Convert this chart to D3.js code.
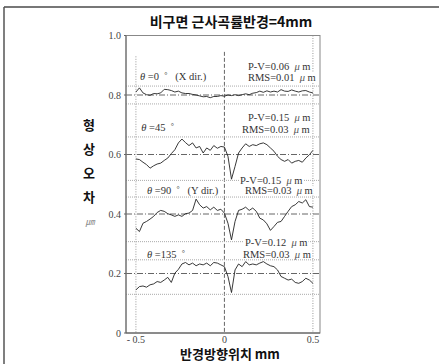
<!DOCTYPE html>
<html>
<head>
<meta charset="utf-8">
<script src="https://cdn.jsdelivr.net/npm/d3@7"></script>
<style>
  html, body { margin: 0; padding: 0; background: #fff; }
  svg { display: block; }
  .tick-label { font-family: "Liberation Serif", "DejaVu Serif", serif; font-size: 10px; fill: #444; }
  .note { font-family: "Liberation Serif", "DejaVu Serif", serif; font-size: 10.5px; fill: #333; }
  .kr { font-family: "Noto Sans CJK KR", "Noto Sans", sans-serif; font-weight: bold; fill: #111; }
</style>
</head>
<body>
<svg id="chart"></svg>
<script>
// sample positions along the radius (mm)
const positions = [-0.50, -0.48, -0.46, -0.44, -0.42, -0.40, -0.38, -0.36, -0.34, -0.32,
  -0.30, -0.28, -0.26, -0.24, -0.22, -0.20, -0.18, -0.16, -0.14, -0.12,
  -0.10, -0.08, -0.06, -0.04, -0.02, 0.00, 0.02, 0.04, 0.06, 0.08,
  0.10, 0.12, 0.14, 0.16, 0.18, 0.20, 0.22, 0.24, 0.26, 0.28,
  0.30, 0.32, 0.34, 0.36, 0.38, 0.40, 0.42, 0.44, 0.46, 0.48, 0.50];

// form error profiles (offset for display), one per direction
const profile0 = [0.810, 0.824, 0.807, 0.801, 0.799, 0.805, 0.804, 0.807, 0.819, 0.818,
  0.815, 0.810, 0.813, 0.807, 0.805, 0.805, 0.802, 0.800, 0.797, 0.794,
  0.795, 0.791, 0.795, 0.795, 0.798, 0.796, 0.800, 0.798, 0.801, 0.798,
  0.801, 0.804, 0.801, 0.806, 0.808, 0.813, 0.809, 0.814, 0.810, 0.813,
  0.810, 0.818, 0.813, 0.812, 0.817, 0.813, 0.810, 0.814, 0.815, 0.810, 0.807];
const profile45 = [0.585, 0.583, 0.574, 0.566, 0.554, 0.562, 0.568, 0.571, 0.580, 0.588,
  0.603, 0.616, 0.639, 0.652, 0.640, 0.630, 0.639, 0.622, 0.627, 0.605,
  0.622, 0.614, 0.630, 0.621, 0.627, 0.625, 0.594, 0.517, 0.560, 0.605,
  0.622, 0.636, 0.627, 0.633, 0.630, 0.636, 0.639, 0.633, 0.622, 0.611,
  0.594, 0.583, 0.577, 0.583, 0.571, 0.577, 0.580, 0.574, 0.588, 0.599, 0.614];
const profile90 = [0.352, 0.341, 0.369, 0.375, 0.383, 0.392, 0.405, 0.412, 0.409, 0.401,
  0.397, 0.392, 0.397, 0.392, 0.401, 0.403, 0.412, 0.450, 0.431, 0.420,
  0.425, 0.414, 0.423, 0.412, 0.416, 0.403, 0.369, 0.313, 0.375, 0.412,
  0.416, 0.423, 0.412, 0.420, 0.409, 0.386, 0.380, 0.367, 0.345, 0.358,
  0.372, 0.375, 0.392, 0.409, 0.425, 0.431, 0.442, 0.437, 0.448, 0.425, 0.423];
const profile135 = [0.145, 0.156, 0.158, 0.154, 0.162, 0.165, 0.173, 0.170, 0.178, 0.187,
  0.170, 0.201, 0.214, 0.232, 0.237, 0.229, 0.235, 0.226, 0.232, 0.229,
  0.235, 0.226, 0.237, 0.235, 0.229, 0.223, 0.190, 0.136, 0.212, 0.232,
  0.223, 0.240, 0.229, 0.232, 0.229, 0.235, 0.240, 0.232, 0.226, 0.223,
  0.212, 0.190, 0.184, 0.178, 0.181, 0.170, 0.167, 0.173, 0.184, 0.178, 0.167];

const baselines = [0.8, 0.6, 0.4, 0.2];
const upperLines = [0.83, 0.659, 0.457, 0.246];
const lowerLines = [0.77, 0.513, 0.307, 0.130];

const angleNames = ["0", "45", "90", "135"];
const dirNames = ["(X dir.)", "", "(Y dir.)", ""];
const pvValues = ["0.06", "0.15", "0.15", "0.12"];
const rmsValues = ["0.01", "0.03", "0.03", "0.03"];

const yTicks = [0, 0.2, 0.4, 0.6, 0.8, 1.0];
const yTickLabels = ["0", "0.2", "0.4", "0.6", "0.8", "1.0"];
const xTicks = [-0.5, 0, 0.5];
const xTickLabels = ["- 0.5", "0", "0.5"];

const title = "비구면 근사곡률반경=4mm";
const xTitle = "반경방향위치 mm";
const yTitle = ["형", "상", "오", "차"];
const yUnit = "㎛";

// layout (data units) for the annotation texts
const notePos = [
  { angle: [-0.477, 0.850], pv: [0.133, 0.884], rms: [0.133, 0.847] },
  { angle: [-0.470, 0.679], pv: [0.133, 0.713], rms: [0.099, 0.672] },
  { angle: [-0.437, 0.467], pv: [0.088, 0.501], rms: [0.116, 0.467] },
  { angle: [-0.437, 0.252], pv: [0.116, 0.292], rms: [0.105, 0.252] }
];

const width = 439, height = 364;
const plot = { left: 126, right: 320, top: 35.5, bottom: 333 };

const svg = d3.select("#chart").attr("width", width).attr("height", height);

const x = d3.scaleLinear().domain([-0.556, 0.54]).range([plot.left, plot.right]);
const y = d3.scaleLinear().domain([0, 1]).range([plot.bottom, plot.top]);

// outer frame
svg.append("line").attr("x1", 4).attr("x2", width).attr("y1", 7).attr("y2", 7)
  .attr("stroke", "#777").attr("stroke-width", 2);
svg.append("line").attr("x1", 4).attr("x2", 4).attr("y1", 7).attr("y2", height)
  .attr("stroke", "#555").attr("stroke-width", 1.5);

const grid = svg.append("g");

// vertical guides
grid.append("line").attr("x1", x(-0.5)).attr("x2", x(-0.5)).attr("y1", y(0.93)).attr("y2", y(0))
  .attr("stroke", "#999").attr("stroke-dasharray", "1,1.5");
grid.append("line").attr("x1", x(0)).attr("x2", x(0)).attr("y1", y(0.945)).attr("y2", y(0))
  .attr("stroke", "#666").attr("stroke-dasharray", "4,2");
grid.append("line").attr("x1", x(0.5)).attr("x2", x(0.5)).attr("y1", y(1)).attr("y2", y(0))
  .attr("stroke", "#999").attr("stroke-dasharray", "1,1.5");

// baselines (dash-dot) and envelope lines (dotted)
grid.selectAll(".base").data(baselines).join("line")
  .attr("x1", plot.left).attr("x2", plot.right)
  .attr("y1", d => y(d)).attr("y2", d => y(d))
  .attr("stroke", "#666").attr("stroke-dasharray", "6,2,1,2");
grid.selectAll(".env").data(upperLines.concat(lowerLines)).join("line")
  .attr("x1", plot.left).attr("x2", plot.right)
  .attr("y1", d => y(d)).attr("y2", d => y(d))
  .attr("stroke", "#aaa").attr("stroke-dasharray", "1,1");

// frame of the plot
svg.append("rect").attr("x", plot.left).attr("y", plot.top)
  .attr("width", plot.right - plot.left).attr("height", plot.bottom - plot.top)
  .attr("fill", "none").attr("stroke", "#888");
svg.append("line").attr("x1", plot.left).attr("x2", plot.right).attr("y1", plot.bottom).attr("y2", plot.bottom)
  .attr("stroke", "#555");
svg.append("line").attr("x1", plot.left).attr("x2", plot.left).attr("y1", plot.top).attr("y2", plot.bottom)
  .attr("stroke", "#666");

// profiles
const profiles = [profile0, profile45, profile90, profile135];
const line = d3.line().x((d, i) => x(positions[i])).y(d => y(d));
svg.append("g").selectAll("path").data(profiles).join("path")
  .attr("d", d => line(d))
  .attr("fill", "none").attr("stroke", "#222").attr("stroke-width", 0.9)
  .attr("stroke-linejoin", "round");

// annotations
const notes = svg.append("g");
function note(pos, build) {
  const t = notes.append("text").attr("class", "note")
    .attr("x", x(pos[0])).attr("y", y(pos[1]));
  build(t);
  const b = t.node().getBBox();
  notes.insert("rect", () => t.node())
    .attr("x", b.x - 1).attr("y", b.y + 1).attr("width", b.width + 2).attr("height", b.height - 2)
    .attr("fill", "#fff");
}
profiles.forEach((p, i) => {
  note(notePos[i].angle, t => {
    t.append("tspan").attr("font-style", "italic").text("θ");
    t.append("tspan").text(" =" + angleNames[i] + "\u00a0\u00a0");
    t.append("tspan").attr("dy", -2).attr("font-size", 8).text("°");
    t.append("tspan").attr("dy", 2).text(dirNames[i] ? "\u00a0\u00a0\u00a0" + dirNames[i] : "");
  });
  note(notePos[i].pv, t => {
    t.append("tspan").text("P-V=" + pvValues[i] + "\u00a0\u00a0");
    t.append("tspan").attr("font-style", "italic").attr("fill", "#555").text("μ");
    t.append("tspan").text(" m");
  });
  note(notePos[i].rms, t => {
    t.append("tspan").text("RMS=" + rmsValues[i] + "\u00a0\u00a0");
    t.append("tspan").attr("font-style", "italic").attr("fill", "#555").text("μ");
    t.append("tspan").text(" m");
  });
});

// tick labels
svg.append("g").selectAll("text").data(yTicks).join("text")
  .attr("class", "tick-label")
  .attr("x", plot.left - 5).attr("y", d => y(d)).attr("dy", "0.35em")
  .attr("text-anchor", "end")
  .text((d, i) => yTickLabels[i]);
svg.append("g").selectAll("line").data(yTicks).join("line")
  .attr("x1", plot.left - 2).attr("x2", plot.left).attr("y1", d => y(d)).attr("y2", d => y(d))
  .attr("stroke", "#666");
svg.append("g").selectAll("text").data(xTicks).join("text")
  .attr("class", "tick-label")
  .attr("x", d => x(d)).attr("y", plot.bottom + 10)
  .attr("text-anchor", "middle")
  .text((d, i) => xTickLabels[i]);

// titles
svg.append("text").attr("class", "kr").attr("x", 231).attr("y", 27)
  .attr("text-anchor", "middle").attr("font-size", 14).text(title);
svg.append("text").attr("class", "kr").attr("x", 230).attr("y", 359)
  .attr("text-anchor", "middle").attr("font-size", 13).text(xTitle);
svg.append("g").selectAll("text").data(yTitle).join("text")
  .attr("class", "kr").attr("font-size", 13)
  .attr("x", 89).attr("y", (d, i) => 130 + i * 24)
  .attr("text-anchor", "middle").text(d => d);
svg.append("text").attr("x", 90).attr("y", 225).attr("text-anchor", "middle")
  .attr("font-family", "Noto Sans CJK KR, sans-serif").attr("font-style", "italic")
  .attr("font-size", 9).attr("fill", "#888").text(yUnit);
</script>
</body>
</html>
